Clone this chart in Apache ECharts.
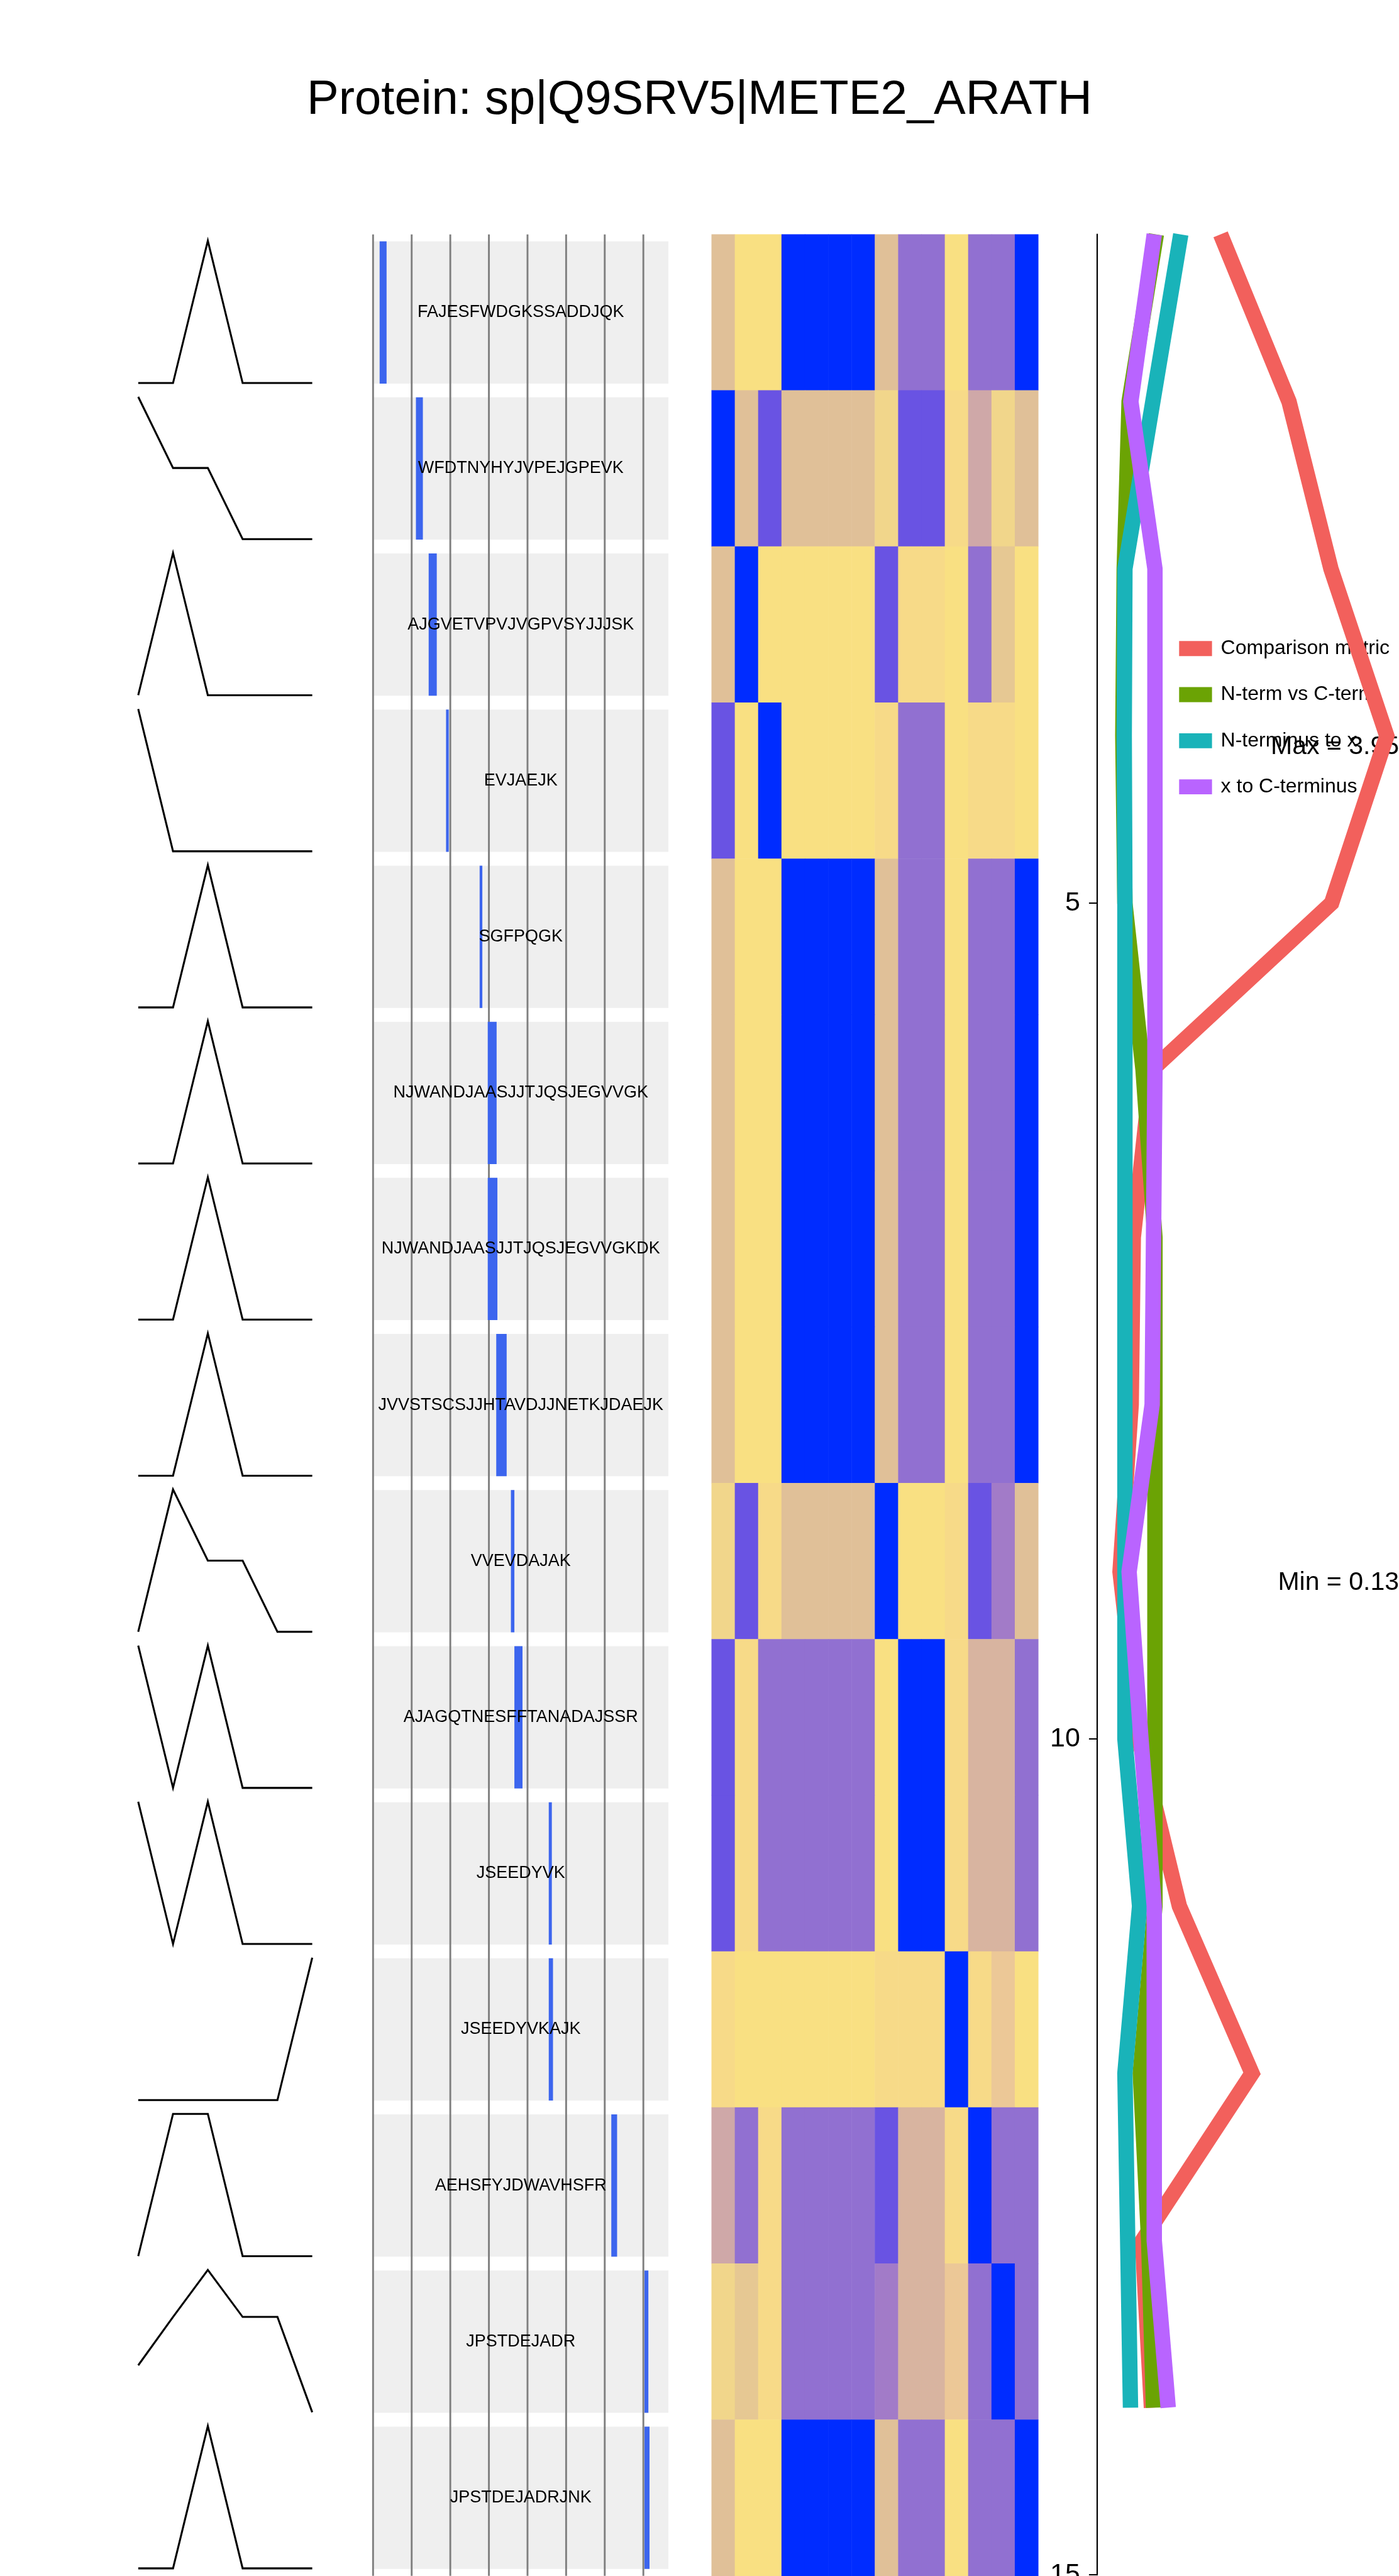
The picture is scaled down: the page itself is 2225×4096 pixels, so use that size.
<!DOCTYPE html>
<html><head><meta charset="utf-8">
<script src="https://cdn.jsdelivr.net/npm/echarts@6/dist/echarts.min.js"></script>
<style>html,body{margin:0;padding:0;background:#fff}#c{width:2225px;height:4096px}</style>
</head><body><div id="c"></div>
<script>
// ---------------- data ----------------
const chartTitle = 'Protein: sp|Q9SRV5|METE2_ARATH';

const peptides = ['FAJESFWDGKSSADDJQK', 'WFDTNYHYJVPEJGPEVK', 'AJGVETVPVJVGPVSYJJJSK', 'EVJAEJK',
  'SGFPQGK', 'NJWANDJAASJJTJQSJEGVVGK', 'NJWANDJAASJJTJQSJEGVVGKDK', 'JVVSTSCSJJHTAVDJJNETKJDAEJK',
  'VVEVDAJAK', 'AJAGQTNESFFTANADAJSSR', 'JSEEDYVK', 'JSEEDYVKAJK', 'AEHSFYJDWAVHSFR',
  'JPSTDEJADR', 'JPSTDEJADRJNK'];
const peptideStart = [17, 111, 144, 189, 276, 297, 297, 319, 357, 366, 455, 455, 617, 703, 703];
const peptideEnd   = [35, 129, 165, 196, 283, 320, 322, 346, 366, 387, 463, 466, 632, 713, 716];
const proteinLength = 765;
const positionGrid = [0, 100, 200, 300, 400, 500, 600, 700];

// intensity profiles (left panel), one per peptide
const profiles = [
  [0, 0, 1, 0, 0, 0],
  [1, 0.5, 0.5, 0, 0, 0],
  [0, 1, 0, 0, 0, 0],
  [1, 0, 0, 0, 0, 0],
  [0, 0, 1, 0, 0, 0],
  [0, 0, 1, 0, 0, 0],
  [0, 0, 1, 0, 0, 0],
  [0, 0, 1, 0, 0, 0],
  [0, 1, 0.5, 0.5, 0, 0],
  [1, 0, 1, 0, 0, 0],
  [1, 0, 1, 0, 0, 0],
  [0, 0, 0, 0, 0, 1],
  [0, 1, 1, 0, 0, 0],
  [0.33, 0.67, 1, 0.67, 0.67, 0],
  [0, 0, 1, 0, 0, 0]
];

// heatmap: colour-scale level per peptide (row) and sample (column)
const heatPalette = ['#002CFF', '#6953E3', '#9170D1', '#A27BC8', '#CFA8A8', '#D8B4A0',
  '#E0C098', '#E6C893', '#ECC897', '#F1D68B', '#F7DA88', '#F9E082'];
const heatLevels = [
  [6, 11, 11, 0, 0, 0, 0, 6, 2, 2, 11, 2, 2, 0],
  [0, 6, 1, 6, 6, 6, 6, 9, 1, 1, 10, 4, 9, 6],
  [6, 0, 11, 11, 11, 11, 11, 1, 10, 10, 11, 2, 7, 11],
  [1, 11, 0, 11, 11, 11, 11, 10, 2, 2, 11, 10, 10, 11],
  [6, 11, 11, 0, 0, 0, 0, 6, 2, 2, 11, 2, 2, 0],
  [6, 11, 11, 0, 0, 0, 0, 6, 2, 2, 11, 2, 2, 0],
  [6, 11, 11, 0, 0, 0, 0, 6, 2, 2, 11, 2, 2, 0],
  [6, 11, 11, 0, 0, 0, 0, 6, 2, 2, 11, 2, 2, 0],
  [9, 1, 10, 6, 6, 6, 6, 0, 11, 11, 10, 1, 3, 6],
  [1, 10, 2, 2, 2, 2, 2, 11, 0, 0, 10, 5, 5, 2],
  [1, 10, 2, 2, 2, 2, 2, 11, 0, 0, 10, 5, 5, 2],
  [10, 11, 11, 11, 11, 11, 11, 10, 10, 10, 0, 10, 8, 11],
  [4, 2, 10, 2, 2, 2, 2, 1, 5, 5, 10, 0, 2, 2],
  [9, 7, 10, 2, 2, 2, 2, 3, 5, 5, 8, 2, 0, 2],
  [6, 11, 11, 0, 0, 0, 0, 6, 2, 2, 11, 2, 2, 0]
];

// right panel
const positions = [1, 2, 3, 4, 5, 6, 7, 8, 9, 10, 11, 12, 13, 14];
const comparisonMetric = [1.57, 2.55, 3.15, 3.95, 3.16, 0.58, 0.32, 0.29, 0.13, 0.40, 0.98, 2.02, 0.45, 0.58];
const ntermVsCterm     = [0.65, 0.26, 0.19, 0.17, 0.20, 0.46, 0.63, 0.63, 0.63, 0.63, 0.63, 0.42, 0.54, 0.61];
const ntermToX         = [1.00, 0.60, 0.20, 0.19, 0.20, 0.20, 0.20, 0.20, 0.20, 0.20, 0.41, 0.20, 0.24, 0.28];
const xToCterm         = [0.62, 0.285, 0.63, 0.63, 0.63, 0.63, 0.61, 0.59, 0.26, 0.43, 0.62, 0.62, 0.62, 0.82];
const seriesNames  = ['Comparison metric', 'N-term vs C-term', 'N-terminus to x', 'x to C-terminus'];
const seriesValues = [comparisonMetric, ntermVsCterm, ntermToX, xToCterm];
const seriesColors = ['#F2605C', '#6BA304', '#19B3B9', '#B964FF'];
const yTicks = [5, 10, 15];

// ---------------- layout ----------------
const S = 2225 / 2424;
const FONT = '"Liberation Sans", Arial, Helvetica, sans-serif';
const chart = echarts.init(document.getElementById('c'), null, { renderer: 'canvas' });

const grids = [], xAxes = [], yAxes = [], series = [];

// left: profiles
profiles.forEach((p, k) => {
  grids.push({ left: 239.5 * S, top: (417 + 270.4 * k) * S, width: 301.5 * S, height: 246.5 * S, outerBoundsMode: 'none' });
  xAxes.push({ type: 'value', gridIndex: k, min: 0, max: p.length - 1, show: false });
  yAxes.push({ type: 'value', gridIndex: k, min: 0, max: 1, show: false });
  series.push({
    type: 'line', xAxisIndex: k, yAxisIndex: k, data: p.map((v, i) => [i, v]),
    symbol: 'none', clip: false, silent: true,
    lineStyle: { color: '#000', width: 3.1, join: 'miter' }
  });
});

// middle: peptide positions
const G_PEP = grids.length;
grids.push({ left: 646.4 * S, top: 406 * S, width: 511.8 * S, height: 4056 * S, outerBoundsMode: 'none' });
xAxes.push({ type: 'value', gridIndex: G_PEP, min: 0, max: proteinLength, show: false });
yAxes.push({ type: 'category', gridIndex: G_PEP, data: peptides.map((_, i) => i), inverse: true, show: false });

function rectItem(fill) {
  return function (params, api) {
    const a = api.coord([api.value(0), api.value(2)]);
    const b = api.coord([api.value(1), api.value(2)]);
    const h = api.size([0, 1])[1] * 0.9115;
    return { type: 'rect', shape: { x: a[0], y: a[1] - h / 2, width: b[0] - a[0], height: h }, style: { fill: fill } };
  };
}
series.push({
  type: 'custom', xAxisIndex: G_PEP, yAxisIndex: G_PEP, z: 1, silent: true,
  encode: { x: [0, 1], y: 2 },
  data: peptides.map((_, i) => [1, proteinLength, i]),
  renderItem: rectItem('#EFEFEF')
});
series.push({
  type: 'custom', xAxisIndex: G_PEP, yAxisIndex: G_PEP, z: 2, silent: true,
  encode: { x: 0, y: 1 },
  data: positionGrid.map(v => [v, 0]),
  renderItem: function (params, api) {
    const x = api.coord([api.value(0), 0])[0];
    const cs = params.coordSys;
    return { type: 'line', shape: { x1: x, y1: cs.y, x2: x, y2: cs.y + cs.height }, style: { stroke: '#7F7F7F', lineWidth: 2.9 } };
  }
});
series.push({
  type: 'custom', xAxisIndex: G_PEP, yAxisIndex: G_PEP, z: 3, silent: true,
  encode: { x: [0, 1], y: 2 },
  data: peptides.map((_, i) => [peptideStart[i], peptideEnd[i], i]),
  renderItem: rectItem('#3C65EE')
});
series.push({
  type: 'custom', xAxisIndex: G_PEP, yAxisIndex: G_PEP, z: 4, silent: true,
  encode: { x: 0, y: 1 },
  data: peptides.map((_, i) => [proteinLength / 2, i]),
  renderItem: function (params, api) {
    const pt = api.coord([api.value(0), api.value(1)]);
    return { type: 'text', x: pt[0], y: pt[1], style: { text: peptides[params.dataIndex], fill: '#000', fontSize: 27, fontFamily: FONT, align: 'center', verticalAlign: 'middle' } };
  }
});

// heatmap
const G_HEAT = grids.length;
grids.push({ left: 1233 * S, top: 406 * S, width: 566 * S, height: 4056 * S, outerBoundsMode: 'none' });
xAxes.push({ type: 'category', gridIndex: G_HEAT, data: heatLevels[0].map((_, i) => i), show: false });
yAxes.push({ type: 'category', gridIndex: G_HEAT, data: heatLevels.map((_, i) => i), inverse: true, show: false });
const heatData = [];
heatLevels.forEach((row, r) => row.forEach((v, c) => heatData.push([c, r, v])));
const HEAT_SERIES = series.length;
series.push({ type: 'heatmap', xAxisIndex: G_HEAT, yAxisIndex: G_HEAT, data: heatData, silent: true, progressive: 0 });

// right: metric lines
const G_R = grids.length;
grids.push({ left: 1901 * S, right: 0, top: 406 * S, bottom: 2 * S, outerBoundsMode: 'none' });
xAxes.push({ type: 'value', gridIndex: G_R, min: -0.1975, max: 4.125, show: false });
yAxes.push({
  type: 'value', gridIndex: G_R, min: 1, max: 15, inverse: true,
  axisLine: { show: true, onZero: false, lineStyle: { color: '#000', width: 2.2 } },
  axisTick: { show: true, customValues: yTicks, length: 13, lineStyle: { color: '#000', width: 2 } },
  axisLabel: { show: true, customValues: yTicks, fontSize: 43, fontFamily: FONT, color: '#000', margin: 27 },
  splitLine: { show: false }
});
seriesNames.forEach((name, j) => {
  series.push({
    type: 'line', name: name, xAxisIndex: G_R, yAxisIndex: G_R, z: 5 + j,
    data: positions.map((p, i) => [seriesValues[j][i], p]),
    symbol: 'none', silent: true, color: seriesColors[j],
    itemStyle: { color: seriesColors[j] },
    lineStyle: { color: seriesColors[j], width: 24.5, join: 'miter', cap: 'butt' }
  });
});

chart.setOption({
  animation: false,
  backgroundColor: '#fff',
  grid: grids, xAxis: xAxes, yAxis: yAxes, series: series,
  visualMap: [{
    type: 'continuous', show: false, seriesIndex: HEAT_SERIES, dimension: 2,
    min: 0, max: heatPalette.length - 1, inRange: { color: heatPalette }
  }],
  legend: {
    data: seriesNames, orient: 'vertical', left: 2043 * S, top: 1106 * S, padding: 0,
    itemWidth: 57 * S, itemHeight: 26 * S, itemGap: 45 * S, icon: 'rect', selectedMode: false,
    itemStyle: { borderWidth: 0 },
    textStyle: { fontSize: 32, fontFamily: FONT, color: '#000', lineHeight: 26 * S, padding: [0, 0, 0, 9] }
  }
});

// annotations
const maxVal = Math.max.apply(null, comparisonMetric);
const minVal = Math.min.apply(null, comparisonMetric);
const maxPos = positions[comparisonMetric.indexOf(maxVal)];
const minPos = positions[comparisonMetric.indexOf(minVal)];
const yMax = chart.convertToPixel({ gridIndex: G_R }, [0, maxPos])[1];
const yMin = chart.convertToPixel({ gridIndex: G_R }, [0, minPos])[1];

chart.setOption({
  graphic: [
    { type: 'text', x: 1112.5, y: 160, style: { text: chartTitle, fontSize: 76, fontFamily: FONT, fill: '#000', align: 'center', verticalAlign: 'middle' } },
    { type: 'text', x: 2225, y: yMax + 17.5, style: { text: 'Max = ' + maxVal.toFixed(2), fontSize: 41, fontFamily: FONT, fill: '#000', align: 'right', verticalAlign: 'middle' } },
    { type: 'text', x: 2225, y: yMin + 17.5, style: { text: 'Min = ' + minVal.toFixed(2), fontSize: 41, fontFamily: FONT, fill: '#000', align: 'right', verticalAlign: 'middle' } }
  ]
});
</script>
</body></html>
